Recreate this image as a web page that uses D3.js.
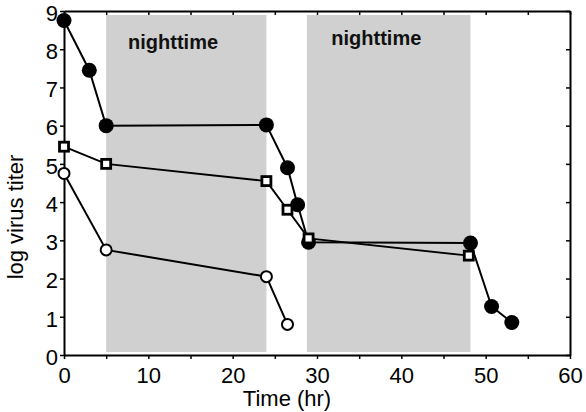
<!DOCTYPE html>
<html><head><meta charset="utf-8">
<script src="https://cdn.jsdelivr.net/npm/d3@7"></script>
<style>
html,body{margin:0;padding:0;background:#fff;}
svg{display:block;font-family:"Liberation Sans",Arial,Helvetica,sans-serif;}
</style></head><body>
<svg id="chart" width="586" height="412"></svg>
<script>
// Virus titer decay over time, three sample series
const filledTime  = [0, 3, 5, 24, 26.5, 27.7, 29, 48.2, 50.7, 53.1];
const filledTiter = [8.75, 7.45, 6.0, 6.02, 4.9, 3.93, 2.95, 2.93, 1.27, 0.85];
const squareTime  = [0, 5, 24, 26.5, 29, 48];
const squareTiter = [5.45, 5.0, 4.55, 3.8, 3.05, 2.6];
const openTime    = [0, 5, 24, 26.5];
const openTiter   = [4.75, 2.75, 2.05, 0.8];

// Night periods (hours) and their captions
const nightStart = [5, 28.8];
const nightEnd   = [24, 48.2];
const nightText  = ["nighttime", "nighttime"];
const nightTextX = [7.6, 31.7];
const nightTextY = [8.0, 8.1];

const xTicks = [0, 10, 20, 30, 40, 50, 60];
const xMinorTicks = [0, 5, 10, 15, 20, 25, 30, 35, 40, 45, 50, 55, 60];
const yTicks = [0, 1, 2, 3, 4, 5, 6, 7, 8, 9];
const xTitle = "Time (hr)";
const yTitle = "log virus titer";

const svg = d3.select("#chart");
const x = d3.scaleLinear().domain([0, 60]).range([64, 570]);
const y = d3.scaleLinear().domain([0, 9]).range([355, 11]);

// shaded night bands
const bands = nightStart.map((s, i) => ({ s, e: nightEnd[i] }));
svg.append("g").selectAll("rect").data(bands).join("rect")
  .attr("x", d => x(d.s))
  .attr("width", d => x(d.e) - x(d.s))
  .attr("y", y(9) + 4)
  .attr("height", (y(0) - 3) - (y(9) + 4))
  .attr("fill", "#d0d0d0");

svg.append("g").selectAll("text").data(nightText).join("text")
  .attr("x", (d, i) => x(nightTextX[i]))
  .attr("y", (d, i) => y(nightTextY[i]))
  .attr("font-size", 20).attr("font-weight", "bold")
  .attr("fill", "#111")
  .text(d => d);

// axes and frame
const styleAxis = g => {
  g.select(".domain").attr("stroke", "#000").attr("stroke-width", 2);
  g.selectAll(".tick line").attr("stroke", "#000").attr("stroke-width", 1.5);
  g.selectAll(".tick text").attr("fill", "#000").attr("font-size", 22)
    .attr("font-family", "'Liberation Sans',Arial,Helvetica,sans-serif");
};

svg.append("g").attr("transform", `translate(0,${y(0)})`)
  .call(d3.axisBottom(x).tickValues(xMinorTicks).tickSize(4).tickSizeOuter(0).tickPadding(8)
    .tickFormat(d => xTicks.includes(d) ? d : ""))
  .call(styleAxis);

svg.append("g").attr("transform", `translate(${x(0)},0)`)
  .call(d3.axisLeft(y).tickValues(yTicks).tickSize(4).tickSizeOuter(0).tickPadding(2)
    .tickFormat(d3.format("d")))
  .call(styleAxis)
  .call(g => g.selectAll(".tick text").attr("dy", "0.42em"));

svg.append("g").attr("transform", `translate(0,${y(9)})`)
  .call(d3.axisTop(x).tickValues(xMinorTicks).tickSize(-4).tickSizeOuter(0).tickFormat(""))
  .call(styleAxis);

svg.append("g").attr("transform", `translate(${x(60)},0)`)
  .call(d3.axisRight(y).tickValues(yTicks).tickSize(-4).tickSizeOuter(0).tickFormat(""))
  .call(styleAxis);

// axis titles
svg.append("text")
  .attr("x", 287).attr("y", 406)
  .attr("text-anchor", "middle").attr("font-size", 22).attr("fill", "#000")
  .text(xTitle);

svg.append("text")
  .attr("transform", "translate(23,217) rotate(-90)")
  .attr("text-anchor", "middle").attr("font-size", 22).attr("fill", "#000")
  .text(yTitle);

// series
const line = d3.line().x(d => x(d[0])).y(d => y(d[1]));
const zipPts = (t, v) => t.map((ti, i) => [ti, v[i]]);

const openPts = zipPts(openTime, openTiter);
const filledPts = zipPts(filledTime, filledTiter);
const squarePts = zipPts(squareTime, squareTiter);

function drawLine(pts) {
  svg.append("path").datum(pts)
    .attr("d", line).attr("fill", "none")
    .attr("stroke", "#000").attr("stroke-width", 2);
}

// open circles
drawLine(openPts);
svg.append("g").selectAll("circle").data(openPts).join("circle")
  .attr("cx", d => x(d[0])).attr("cy", d => y(d[1])).attr("r", 5.5)
  .attr("fill", "#fff").attr("stroke", "#000").attr("stroke-width", 2);

// filled circles
drawLine(filledPts);
svg.append("g").selectAll("circle").data(filledPts).join("circle")
  .attr("cx", d => x(d[0])).attr("cy", d => y(d[1])).attr("r", 7.5)
  .attr("fill", "#000");

// open squares
drawLine(squarePts);
svg.append("g").selectAll("rect").data(squarePts).join("rect")
  .attr("x", d => x(d[0]) - 4.5).attr("y", d => y(d[1]) - 4.5)
  .attr("width", 9).attr("height", 9)
  .attr("fill", "#fff").attr("stroke", "#000").attr("stroke-width", 2.8);
</script>
</body></html>
